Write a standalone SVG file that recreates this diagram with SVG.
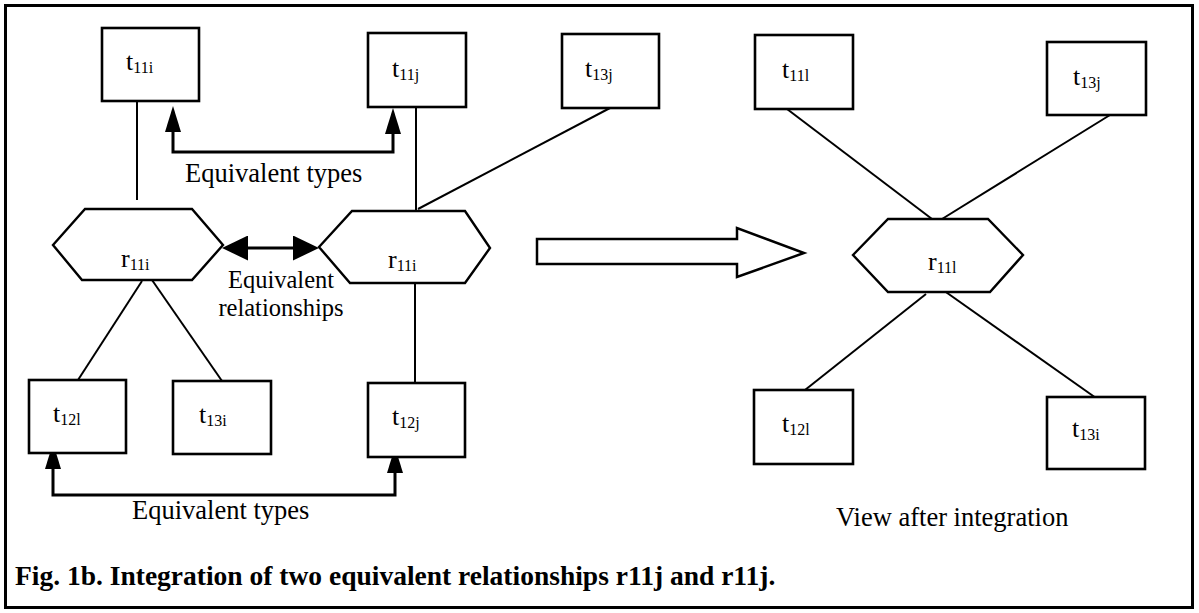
<svg xmlns="http://www.w3.org/2000/svg" width="1199" height="613" viewBox="0 0 1199 613">
<style>
.box{fill:#fff;stroke:#000;stroke-width:2.6}
.hex{fill:#fff;stroke:#000;stroke-width:2.4}
.ln{fill:none;stroke:#000;stroke-width:2}
.ar{fill:none;stroke:#000;stroke-width:3}
.lbl{font-family:"Liberation Serif","Times New Roman",serif;font-size:26px;fill:#000}
.sub{font-size:16px}
.txt{font-family:"Liberation Serif","Times New Roman",serif;font-size:26.5px;fill:#000}
.txt2{font-family:"Liberation Serif","Times New Roman",serif;font-size:24.5px;fill:#000}
.cap{font-family:"Liberation Serif","Times New Roman",serif;font-size:27.5px;font-weight:bold;fill:#000}
</style>
<defs>
<marker id="ah" markerUnits="userSpaceOnUse" viewBox="0 0 26 16" refX="0" refY="8" markerWidth="26" markerHeight="16" orient="auto-start-reverse"><path d="M0,0 L26,8 L0,16 z" fill="#000"/></marker>
<marker id="ah2" markerUnits="userSpaceOnUse" viewBox="0 0 26 25" refX="0" refY="12.5" markerWidth="26" markerHeight="25" orient="auto-start-reverse"><path d="M0,0 L26,12.5 L0,25 z" fill="#000"/></marker>
</defs>
<rect x="5.5" y="5.5" width="1187" height="602" fill="#fff" stroke="#000" stroke-width="3"/>

<g id="connectors">
<line class="ln" x1="137" y1="101" x2="137" y2="200"/>
<line class="ln" x1="416" y1="107" x2="416" y2="211"/>
<line class="ln" x1="610" y1="108" x2="418" y2="209"/>
<line class="ln" x1="142" y1="281" x2="78" y2="380"/>
<line class="ln" x1="152" y1="280" x2="222" y2="381"/>
<line class="ln" x1="415" y1="283" x2="415" y2="396"/>
<path class="ar" d="M173,132 L173,152 L393,152 L393,134" marker-start="url(#ah)" marker-end="url(#ah)"/>
<path class="ar" d="M248,248 L293,248" marker-start="url(#ah2)" marker-end="url(#ah2)"/>
<path class="ar" d="M53,469 L53,495 L395,495 L395,473" marker-start="url(#ah)" marker-end="url(#ah)"/>
<line class="ln" x1="787" y1="109" x2="932" y2="219"/>
<line class="ln" x1="1110" y1="115" x2="942" y2="219"/>
<line class="ln" x1="926" y1="294" x2="805" y2="390"/>
<line class="ln" x1="943" y1="290" x2="1096" y2="398"/>
<polygon id="integration-arrow" points="537,239 737,239 737,228 804,253 737,277 737,264 537,264" fill="#fff" stroke="#000" stroke-width="2.5"/>
</g>

<g id="t11i"><rect class="box" x="102" y="28" width="97" height="73"/><text class="lbl" x="126" y="70">t<tspan class="sub" dy="3">11i</tspan></text></g>
<g id="t11j"><rect class="box" x="368" y="33" width="98" height="74"/><text class="lbl" x="392" y="77">t<tspan class="sub" dy="3">11j</tspan></text></g>
<g id="t13j-left"><rect class="box" x="562" y="34" width="97" height="74"/><text class="lbl" x="585" y="77">t<tspan class="sub" dy="3">13j</tspan></text></g>
<g id="r11i-left"><polygon class="hex" points="53,245 85,209 192,209 223,245 192,280 82,280"/><text class="lbl" x="121" y="267">r<tspan class="sub" dy="3">11i</tspan></text></g>
<g id="r11i-right"><polygon class="hex" points="319,247 352,211 465,211 490,248 465,283 350,283"/><text class="lbl" x="388" y="268">r<tspan class="sub" dy="3">11i</tspan></text></g>
<g id="t12l-left"><rect class="box" x="29" y="380" width="97" height="73"/><text class="lbl" x="53" y="422">t<tspan class="sub" dy="3">12l</tspan></text></g>
<g id="t13i-left"><rect class="box" x="173" y="381" width="98" height="73"/><text class="lbl" x="199" y="423">t<tspan class="sub" dy="3">13i</tspan></text></g>
<g id="t12j"><rect class="box" x="368" y="383" width="97" height="74"/><text class="lbl" x="392" y="425">t<tspan class="sub" dy="3">12j</tspan></text></g>

<g id="t11l"><rect class="box" x="755" y="35" width="98" height="74"/><text class="lbl" x="782" y="78">t<tspan class="sub" dy="3">11l</tspan></text></g>
<g id="t13j-right"><rect class="box" x="1047" y="42" width="99" height="73"/><text class="lbl" x="1073" y="85">t<tspan class="sub" dy="3">13j</tspan></text></g>
<g id="r11l"><polygon class="hex" points="853,255 888,219 988,219 1023,255 990,292 888,292"/><text class="lbl" x="928" y="270">r<tspan class="sub" dy="3">11l</tspan></text></g>
<g id="t12l-right"><rect class="box" x="754" y="390" width="99" height="74"/><text class="lbl" x="782" y="432">t<tspan class="sub" dy="3">12l</tspan></text></g>
<g id="t13i-right"><rect class="box" x="1047" y="397" width="98" height="72"/><text class="lbl" x="1072" y="437">t<tspan class="sub" dy="3">13i</tspan></text></g>

<g id="labels">
<text class="txt" x="185" y="182">Equivalent types</text>
<text class="txt2" x="281" y="288" text-anchor="middle">Equivalent</text>
<text class="txt2" x="281" y="316" text-anchor="middle">relationships</text>
<text class="txt" x="132" y="519">Equivalent types</text>
<text class="txt" x="836" y="526">View after integration</text>
<text class="cap" x="15" y="585">Fig. 1b. Integration of two equivalent relationships r11j and r11j.</text>
</g>
</svg>
